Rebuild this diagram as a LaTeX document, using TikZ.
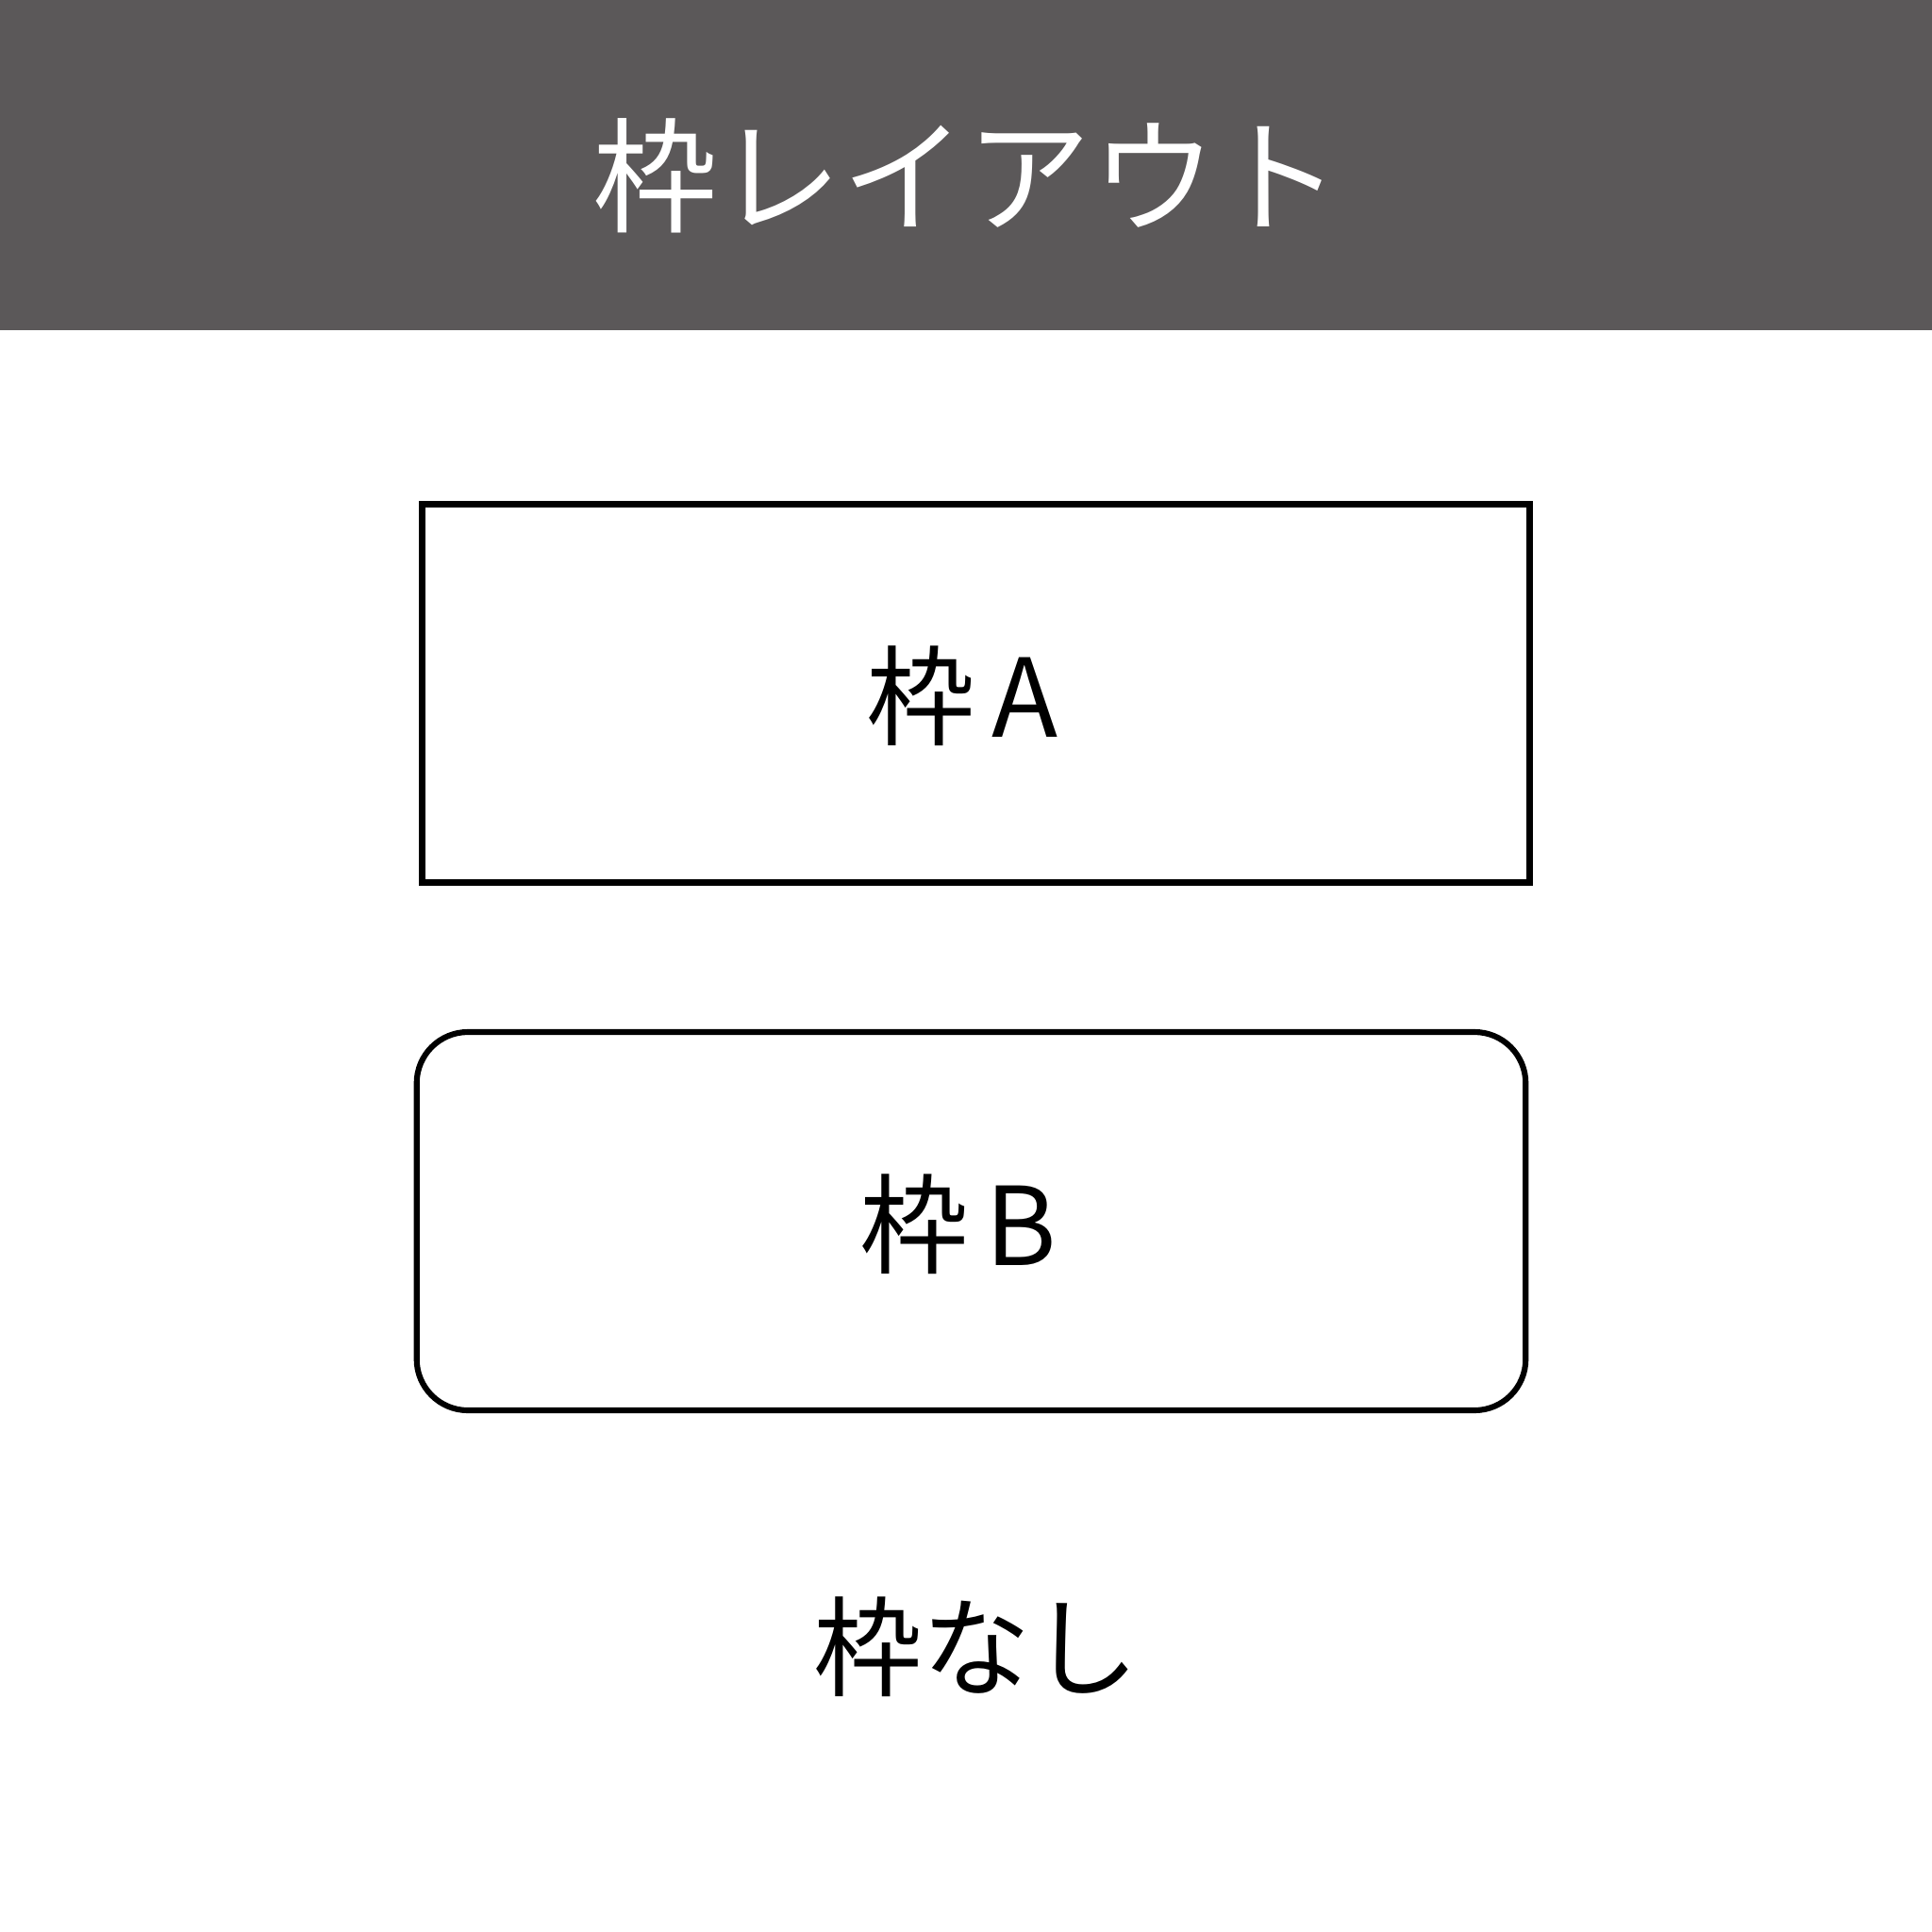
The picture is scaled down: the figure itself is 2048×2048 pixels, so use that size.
\documentclass[tikz,border=0pt]{standalone}
\usepackage{fontspec}
\setmainfont{Noto Sans CJK JP}
\definecolor{cabecera}{HTML}{5B5859}
\tikzset{
  marco/.style={draw=black, line width=1.9pt, minimum width=11.465cm, minimum height=3.916cm, inner sep=0pt},
  marcoredondo/.style={marco, line width=1.7pt, rounded corners=0.53cm, minimum width=11.48cm},
  texto/.style={font=\fontsize{32}{38}\selectfont, inner sep=0pt}
}
\newcommand{\hueco}{\hspace{0.18cm}}
\begin{document}
\begin{tikzpicture}[x=0.009766cm, y=-0.009766cm]
        % Paso 1: Fondo y cabecera
        \fill[white] (0,0) rectangle (2048,2048);
        \useasboundingbox (0,0) rectangle (2048,2048);
        \fill[cabecera] (0,0) rectangle (2048,350);
        \node[texto, text=white, font=\fontsize{36.7}{44}\selectfont] (titulo) at (1025,186) {枠レイアウト};

        % Paso 2: Marco rectangular
        \node[marco] (marcoA) at (1034.5,735) {};
        \node[texto] (textoA) at (1020,738) {枠\hueco A};

        % Paso 3: Marco con esquinas redondeadas
        \node[marcoredondo] (marcoB) at (1029.5,1294.5) {};
        \node[texto] (textoB) at (1016,1298) {枠\hueco B};

        % Paso 4: Texto sin marco
        \node[texto] (sinmarco) at (1035,1746) {枠なし};
    \end{tikzpicture}
\end{document}
